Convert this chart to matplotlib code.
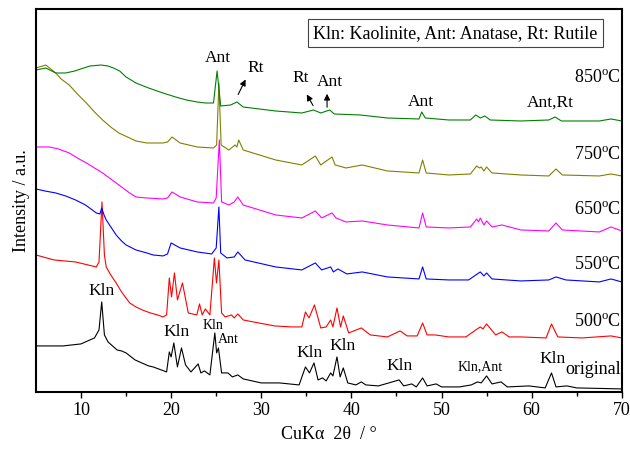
import numpy as np
import matplotlib
matplotlib.use('Agg')
import matplotlib.pyplot as plt

plt.rcParams['font.family'] = ['Liberation Serif', 'DejaVu Serif']
plt.rcParams['mathtext.fontset'] = 'custom'
plt.rcParams['mathtext.rm'] = 'Liberation Serif'

# 2theta (deg) and intensity (a.u.), offset as in the figure
x_orig = [5, 8, 9, 10, 11.5, 12.0, 12.3, 12.6, 13, 14, 14.5, 15, 16, 17, 17.5, 18, 19.5, 19.8, 20.0,
          20.3, 20.7, 21.15, 21.6, 22.2, 23.0, 23.3, 23.7, 24.3, 24.85, 25.05, 25.25, 25.6, 26.3,
          26.8, 27.4, 28, 30, 32, 34.2, 34.9, 35.35, 35.85, 36.3, 36.8, 37.2, 37.7, 37.95, 38.4,
          38.75, 39.1, 39.6, 40.5, 41.1, 41.6, 43, 45.3, 45.8, 46.7, 47.2, 47.9, 48.4, 49.4, 50,
          52, 53.3, 54.0, 54.4, 55.0, 55.6, 56.6, 57.3, 59.7, 61.5, 62.2, 62.7, 63.9, 65, 70]
y_orig = [46, 46, 47, 48, 54, 62, 90, 57, 50, 42, 41, 39, 32, 28, 26, 25, 20, 40, 35,
          49, 25, 44, 27, 20, 28, 19, 21, 17, 59, 39, 44, 19, 19,
          15, 17, 13, 9, 9, 7, 25, 19, 29, 12, 14, 11, 19, 16, 35,
          15, 24, 9, 7, 10, 7, 6, 12, 6, 8, 5, 14, 6, 8, 5,
          5, 7, 10, 9, 16, 8, 10, 5, 6, 4, 19, 5, 6, 4, 3]

x_500 = [5, 7, 9.4, 11.7, 12.0, 12.33, 12.6, 12.8, 13.3, 13.9, 14.5, 15.4, 16.1, 16.8, 17.7, 18.5,
         19.1, 19.5, 19.8, 20.05, 20.37, 20.7, 21.26, 21.9, 22.85, 23.15, 23.45, 23.8, 24.3, 24.8,
         25.03, 25.3, 25.6, 26.0, 26.7, 27.0, 27.4, 28, 29.7, 31.5, 33.4, 34.5, 34.9, 35.3, 35.9,
         36.6, 37.2, 37.7, 37.95, 38.4, 38.8, 39.1, 39.7, 41.1, 42.1, 44, 45.4, 46.2, 47.3, 47.9,
         48.4, 49.3, 50.8, 52.7, 53.8, 54.3, 54.6, 55.0, 56.0, 56.7, 57.5, 58.8, 61.6, 62.2, 62.9,
         65.6, 68.8, 70]
y_500 = [137, 132, 130, 125, 130, 190, 137, 125, 117, 109, 100, 89, 85, 82, 79, 77,
         75, 77, 114, 95, 119, 92, 109, 79, 77, 88, 77, 83, 77, 134,
         109, 132, 79, 75, 77, 74, 78, 72, 69, 66, 65, 65, 80, 74, 87,
         64, 65, 72, 65, 84, 65, 76, 59, 64, 57, 55, 61, 56, 56, 69,
         57, 57, 55, 55, 62, 65, 63, 68, 57, 60, 55, 55, 54, 68, 55,
         54, 56, 54]

x_550 = [5, 6, 7.2, 8.3, 9.4, 10.5, 11.7, 12.1, 12.3, 12.6, 12.8, 13.9, 14.5, 15.0, 16.1, 17.3, 18,
         19.1, 19.6, 20.0, 21.0, 22.9, 24.5, 25.0, 25.3, 25.5, 26.2, 27.0, 27.4, 28.2, 31.6, 34.5,
         36.0, 36.7, 37.7, 38.0, 38.5, 39.5, 41.2, 44.0, 47.5, 47.9, 48.3, 50.8, 53.0, 54.3, 54.7,
         55.0, 55.6, 58.8, 61.9, 62.7, 63.8, 67.5, 68.8, 70]
y_550 = [203, 201, 199, 196, 192, 187, 179, 178, 184, 176, 172, 157, 151, 147, 142, 139, 137,
         136, 138, 149, 144, 140, 138, 144, 185, 139, 134, 135, 140, 132, 125, 122,
         129, 122, 125, 120, 123, 118, 120, 115, 113, 125, 113, 112, 112, 120, 116,
         119, 113, 111, 112, 115, 112, 110, 113, 110]

x_650 = [5, 6.5, 7.5, 8.7, 9.6, 10.6, 11.5, 12.4, 13.3, 14.2, 15.4, 16.1, 17.3, 19.1, 19.6, 20.1,
         21.0, 22.9, 24.7, 25.0, 25.35, 25.6, 26.4, 27.0, 27.4, 28.0, 31.6, 34.5, 36.0, 36.7, 37.85,
         38.3, 39.4, 41.2, 44.0, 47.5, 47.9, 48.3, 50.8, 53.2, 53.9, 54.1, 54.3, 54.7, 55.0, 55.6,
         56.7, 58.8, 61.9, 62.7, 63.4, 67.5, 68.8, 70]
y_650 = [245, 245, 243, 239, 234, 229, 224, 219, 213, 207, 199, 195, 194, 193, 194, 200,
         195, 190, 189, 194, 252, 190, 187, 190, 195, 187, 177, 174, 181, 174, 179,
         174, 170, 171, 167, 164, 179, 165, 164, 165, 173, 170, 174, 167, 171, 165,
         167, 162, 161, 169, 162, 160, 165, 161]

x_750 = [5, 6.1, 7.2, 7.8, 8.7, 9.6, 10.6, 11.5, 12.4, 13.3, 14.2, 15.4, 16.1, 17.3, 19.1, 19.6,
         20.1, 21.0, 22.9, 24.7, 25.05, 25.3, 25.55, 26.4, 27.1, 27.3, 27.5, 28.0, 31.6, 34.5,
         36.0, 36.6, 37.85, 38.2, 39.4, 41.2, 44.0, 47.5, 47.9, 48.3, 50.8, 53.2, 53.9, 54.2,
         54.4, 54.7, 55.0, 55.6, 58.8, 61.9, 62.7, 63.4, 67.5, 68.8, 70]
y_750 = [324, 327, 319, 313, 307, 298, 289, 280, 272, 265, 259, 254, 251, 249, 249, 250,
         255, 249, 245, 244, 247, 309, 247, 242, 247, 245, 252, 242, 232, 227,
         236, 227, 235, 227, 224, 227, 221, 219, 232, 219, 217, 218, 226, 224,
         225, 221, 225, 219, 217, 216, 223, 217, 216, 218, 216]

x_850 = [5, 6.1, 7.2, 8.3, 9.3, 10.3, 11, 12.2, 13, 13.6, 14.3, 15.0, 16.1, 17.5, 19.1, 20.5,
         21.7, 22.9, 23.8, 24.7, 25.1, 25.5, 26.6, 27.3, 28.0, 31.6, 34.5, 35.8, 36.6, 37.6, 38.1,
         41.0, 44.0, 47.5, 47.8, 48.2, 50.8, 53.2, 53.8, 54.3, 54.8, 55.4, 58.8, 61.9, 62.6, 63.3,
         67.5, 68.8, 70]
y_850 = [322, 324, 319, 319, 321, 324, 326, 327, 326, 324, 321, 315, 309, 304, 299, 295,
         292, 290, 289, 289, 321, 286, 287, 290, 285, 281, 279, 282, 279, 282, 278,
         277, 274, 273, 280, 274, 272, 272, 277, 274, 276, 272, 271, 272, 275, 271,
         271, 273, 271]

series = [
    (x_orig, y_orig, 'black', 'original', 22),
    (x_500, y_500, '#ff0000', '500$^{\\rm o}$C', 70),
    (x_550, y_550, '#0000ff', '550$^{\\rm o}$C', 127),
    (x_650, y_650, '#ff00ff', '650$^{\\rm o}$C', 182),
    (x_750, y_750, '#808000', '750$^{\\rm o}$C', 237),
    (x_850, y_850, '#008000', '850$^{\\rm o}$C', 314),
]

fig = plt.figure(figsize=(6.3, 4.51), dpi=100)
ax = fig.add_axes([0.057, 0.131, 0.930, 0.849])

for xs, ys, c, lab, ly in series:
    ax.plot(xs, ys, color=c, lw=0.8)
    ax.text(69.9, ly, lab, ha='right', va='center', fontsize=13)

# phase labels
big = 12.5
small = 10
ax.text(25.2, 334, 'Ant', ha='center', va='center', fontsize=big)
ax.text(47.7, 290, 'Ant', ha='center', va='center', fontsize=big)
ax.text(62.1, 289, 'Ant,Rt', ha='center', va='center', fontsize=big)
arrow = dict(arrowstyle='-|>', color='black', lw=0.8, mutation_scale=9)
ax.text(29.4, 324, 'Rt', ha='center', va='center', fontsize=big)
ax.annotate('', xy=(28.4, 315), xytext=(27.3, 295), arrowprops=arrow)
ax.text(34.4, 314, 'Rt', ha='center', va='center', fontsize=big)
ax.annotate('', xy=(34.9, 300), xytext=(35.9, 284), arrowprops=arrow)
ax.text(37.6, 310, 'Ant', ha='center', va='center', fontsize=big)
ax.annotate('', xy=(37.3, 301), xytext=(37.3, 282), arrowprops=arrow)

ax.text(12.3, 101, 'Kln', ha='center', va='center', fontsize=big)
ax.text(20.6, 60, 'Kln', ha='center', va='center', fontsize=big)
ax.text(24.6, 66, 'Kln', ha='center', va='center', fontsize=small)
ax.text(26.3, 52, 'Ant', ha='center', va='center', fontsize=small)
ax.text(35.4, 39, 'Kln', ha='center', va='center', fontsize=big)
ax.text(39.0, 46, 'Kln', ha='center', va='center', fontsize=big)
ax.text(45.4, 26, 'Kln', ha='center', va='center', fontsize=big)
ax.text(54.3, 25, 'Kln,Ant', ha='center', va='center', fontsize=small)
ax.text(62.3, 33, 'Kln', ha='center', va='center', fontsize=big)

ax.text(0.716, 0.937, 'Kln: Kaolinite, Ant: Anatase, Rt: Rutile', transform=ax.transAxes,
        ha='center', va='center', fontsize=13,
        bbox=dict(boxstyle='square,pad=0.3', fc='white', ec='#444444', lw=0.8))

ax.set_xlim(5, 70)
ax.set_ylim(0, 383)
ax.set_xticks([10, 20, 30, 40, 50, 60, 70])
ax.set_xticks([15, 25, 35, 45, 55, 65], minor=True)
ax.set_yticks([])
ax.tick_params(axis='x', direction='out', length=4, width=1, labelsize=13, pad=3)
ax.tick_params(axis='x', which='minor', direction='out', length=3, width=1)
for s in ax.spines.values():
    s.set_linewidth(1.5)
ax.set_xlabel('CuK\u03b1  2\u03b8  / \u00b0', fontsize=13, labelpad=5)
ax.set_ylabel('Intensity / a.u.', fontsize=13, labelpad=4)

fig.savefig('out.png', dpi=100)
